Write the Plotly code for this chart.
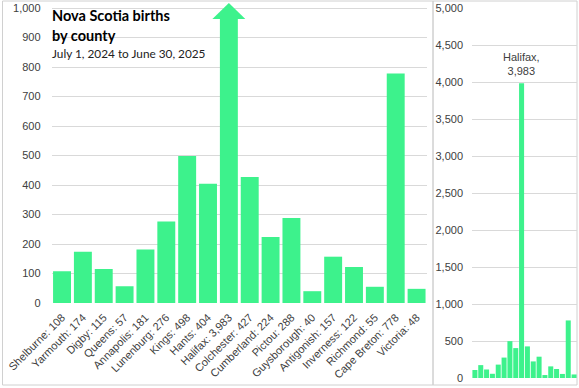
import plotly.graph_objects as go

counties = ["Shelburne", "Yarmouth", "Digby", "Queens", "Annapolis", "Lunenburg",
            "Kings", "Hants", "Halifax", "Colchester", "Cumberland", "Pictou",
            "Guysborough", "Antigonish", "Inverness", "Richmond", "Cape Breton", "Victoria"]
births = [108, 174, 115, 57, 181, 276, 498, 404, 3983, 427, 224, 288, 40, 157, 122, 55, 778, 48]

left_ticks = list(range(0, 1001, 100))
right_ticks = list(range(0, 5001, 500))

W, H = 579, 388
GREEN = "#3df28c"
GRID = "#d9d9d9"
TXT = "#404040"
FONT = "Liberation Sans, Arial, sans-serif"
TFONT = "Lato, sans-serif"

labels = [f"{c}: {v:,}" for c, v in zip(counties, births)]

# left panel: values above the arrow base are shown as an arrow
arrow_base, arrow_tip = 963, 1017
shown = [min(v, arrow_base) for v in births]
big = max(range(len(births)), key=lambda i: births[i])

def px(x):
    return x / W

def py(y):
    return 1 - y / H

fig = go.Figure()
fig.add_trace(go.Bar(x=labels, y=shown, marker_color=GREEN, marker_line_width=0,
                     xaxis="x", yaxis="y", hoverinfo="skip"))
fig.add_trace(go.Bar(x=counties, y=births, marker_color=GREEN, marker_line_width=0,
                     xaxis="x2", yaxis="y2", hoverinfo="skip"))

hw = 0.79
fig.add_shape(type="path", xref="x", yref="y",
              path=f"M {big - hw} {arrow_base} L {big} {arrow_tip} L {big + hw} {arrow_base} Z",
              fillcolor=GREEN, line_width=0, layer="above")

fig.update_layout(
    width=W, height=H, margin=dict(l=0, r=0, t=0, b=0, autoexpand=False),
    paper_bgcolor="white", plot_bgcolor="white", showlegend=False,
    bargap=0.14,
    font=dict(family=FONT, size=11, color=TXT),
    xaxis=dict(domain=[px(51.6), px(427)], tickangle=-45, showgrid=False,
               showline=False, ticks="", tickfont=dict(size=11, color=TXT),
               ticklabelstandoff=5, automargin=False, fixedrange=True),
    yaxis=dict(domain=[py(303), py(2.1)], range=[0, 1020], tickvals=left_ticks,
               ticktext=[f"{t:,}" for t in left_ticks], showgrid=True, gridcolor=GRID,
               zeroline=False, showline=False, ticks="", ticklabelstandoff=10,
               automargin=False, tickfont=dict(size=11, color=TXT)),
    xaxis2=dict(domain=[px(472), px(577)], showticklabels=False, showgrid=False,
                ticks="", showline=False, anchor="y2", automargin=False),
    yaxis2=dict(domain=[py(378), py(8)], range=[0, 5000], tickvals=right_ticks,
                ticktext=[f"{t:,}" for t in right_ticks], showgrid=True, gridcolor=GRID,
                zeroline=False, showline=False, ticks="", ticklabelstandoff=8,
                automargin=False, tickfont=dict(size=11, color=TXT), anchor="x2"),
)

# panel borders
fig.add_shape(type="rect", xref="paper", yref="paper", x0=px(2.5), x1=px(433),
              y0=py(385), y1=py(1), line=dict(color="#d0d0d0", width=1), layer="below")
fig.add_shape(type="rect", xref="paper", yref="paper", x0=px(433), x1=px(577),
              y0=py(385), y1=py(1), line=dict(color="#d0d0d0", width=1), layer="below")

# titles
fig.add_annotation(text="<b>Nova Scotia births</b>", xref="paper", yref="paper",
                   x=px(50), y=py(16), xanchor="left", yanchor="middle", showarrow=False,
                   font=dict(family=TFONT, size=14.5, color="#000000"))
fig.add_annotation(text="<b>by county</b>", xref="paper", yref="paper",
                   x=px(50), y=py(35), xanchor="left", yanchor="middle", showarrow=False,
                   font=dict(family=TFONT, size=14.5, color="#000000"))
fig.add_annotation(text="July 1, 2024 to June 30, 2025", xref="paper", yref="paper",
                   x=px(50), y=py(54), xanchor="left", yanchor="middle", showarrow=False,
                   font=dict(family=TFONT, size=11.8, color="#222222"))

fig.add_annotation(text=f"{counties[big]},<br>{births[big]:,}", xref="x2", yref="y2",
                   x=counties[big], y=births[big], yanchor="bottom", yshift=4,
                   showarrow=False, font=dict(size=11, color=TXT))

fig.write_html("out.html", config={"displayModeBar": False},
               post_script="document.body.style.margin='0';")
